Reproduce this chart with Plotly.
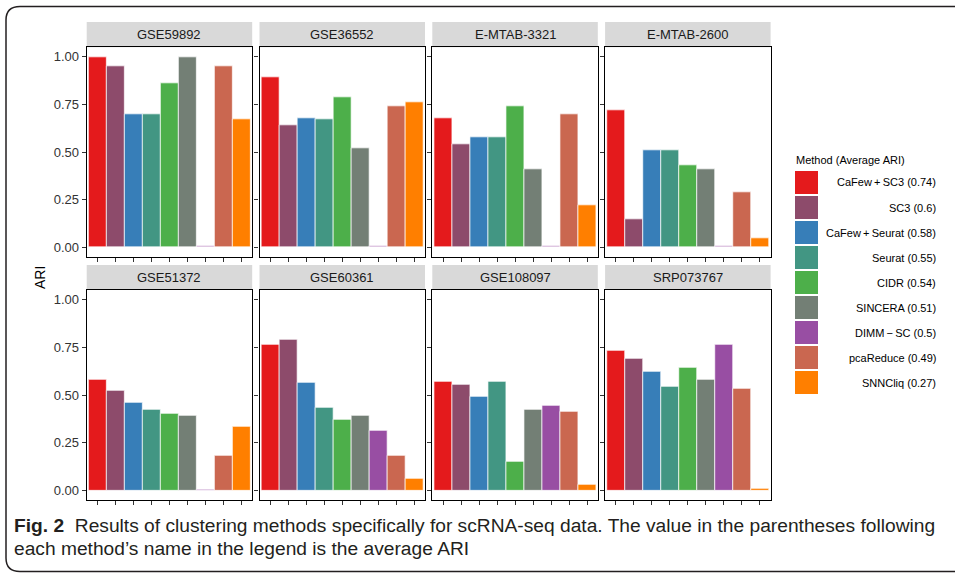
import plotly.graph_objects as go
from plotly.subplots import make_subplots

W, H = 955, 573

methods = ["CaFew+SC3", "SC3", "CaFew+Seurat", "Seurat", "CIDR", "SINCERA", "DIMM-SC", "pcaReduce", "SNNCliq"]
legend_labels = ["CaFew\u2009+\u2009SC3", "SC3", "CaFew\u2009+\u2009Seurat", "Seurat", "CIDR", "SINCERA",
                 "DIMM\u2009\u2212\u2009SC", "pcaReduce", "SNNCliq"]
avg_ari = ["0.74", "0.6", "0.58", "0.55", "0.54", "0.51", "0.5", "0.49", "0.27"]
colors = ["#E41A1C", "#8D4B6B", "#377EB8", "#429683", "#4DAF4A", "#737F75", "#984EA3", "#CA6750", "#FF7F00"]

datasets = ["GSE59892", "GSE36552", "E-MTAB-3321", "E-MTAB-2600",
            "GSE51372", "GSE60361", "GSE108097", "SRP073767"]

GSE59892 = [1.00, 0.95, 0.70, 0.70, 0.862, 1.00, 0.006, 0.95, 0.674]
GSE36552 = [0.894, 0.642, 0.679, 0.674, 0.789, 0.522, 0.006, 0.742, 0.763]
E_MTAB_3321 = [0.679, 0.543, 0.579, 0.579, 0.742, 0.412, 0.006, 0.70, 0.223]
E_MTAB_2600 = [0.721, 0.150, 0.511, 0.511, 0.433, 0.412, 0.006, 0.291, 0.051]
GSE51372 = [0.578, 0.521, 0.458, 0.422, 0.401, 0.390, 0.006, 0.181, 0.333]
GSE60361 = [0.761, 0.787, 0.563, 0.432, 0.369, 0.390, 0.312, 0.181, 0.061]
GSE108097 = [0.568, 0.552, 0.490, 0.568, 0.150, 0.422, 0.443, 0.411, 0.030]
SRP073767 = [0.730, 0.690, 0.620, 0.542, 0.641, 0.578, 0.761, 0.531, 0.009]
values = [GSE59892, GSE36552, E_MTAB_3321, E_MTAB_2600, GSE51372, GSE60361, GSE108097, SRP073767]

y_ticks = [0, 0.25, 0.5, 0.75, 1.0]
y_ticktext = ["0.00", "0.25", "0.50", "0.75", "1.00"]


def px(x):
    return x / W


def py(y):
    return 1 - y / H


fig = make_subplots(rows=2, cols=4)

col_left = [86.7, 259.5, 432.3, 605.1]
col_w = 165.5
row_plot = [(47.2, 257.2), (289.7, 500.3)]
row_strip = [(22.0, 47.2), (265.0, 289.7)]

shapes = []
annotations = []

for i, (name, vals) in enumerate(zip(datasets, values)):
    r, c = divmod(i, 4)
    fig.add_trace(go.Bar(x=methods, y=vals, marker=dict(color=colors, line=dict(color="white", width=0.7)),
                         width=1, showlegend=False, hoverinfo="x+y"), row=r + 1, col=c + 1)
    x0, x1 = col_left[c], col_left[c] + col_w
    y0, y1 = row_plot[r]
    k = "" if i == 0 else str(i + 1)
    fig.layout["xaxis" + k].update(domain=[px(x0), px(x1)], range=[-0.6, 8.6], showticklabels=False,
                                   ticks="outside", ticklen=4, tickcolor="#333", tickwidth=1,
                                   showline=True, mirror=True, linecolor="black", linewidth=1.2,
                                   showgrid=False, zeroline=False, fixedrange=True)
    fig.layout["yaxis" + k].update(domain=[py(y1), py(y0)], range=[-0.05, 1.05], tickvals=y_ticks,
                                   ticktext=y_ticktext, showticklabels=(c == 0),
                                   ticks="outside", ticklen=4, tickcolor="#333", tickwidth=1,
                                   tickfont=dict(size=13, color="#333", family="Liberation Sans"),
                                   showline=True, mirror=True, linecolor="black", linewidth=1.2,
                                   showgrid=False, zeroline=False, fixedrange=True)
    sy0, sy1 = row_strip[r]
    shapes.append(dict(type="rect", xref="paper", yref="paper", x0=px(x0), x1=px(x1),
                       y0=py(sy1), y1=py(sy0), fillcolor="#D9D9D9", line=dict(width=0), layer="below"))
    annotations.append(dict(text=name, xref="paper", yref="paper", x=px((x0 + x1) / 2), y=py((sy0 + sy1) / 2),
                            showarrow=False, xanchor="center", yanchor="middle",
                            font=dict(size=13, color="#1a1a1a", family="Liberation Sans")))

# y axis title
annotations.append(dict(text="ARI", xref="paper", yref="paper", x=px(40), y=py(278), textangle=-90,
                        showarrow=False, xanchor="center", yanchor="middle",
                        font=dict(size=14, color="black", family="Liberation Sans")))

# legend
annotations.append(dict(text="Method (Average ARI)", xref="paper", yref="paper", x=px(794), y=py(160),
                        showarrow=False, xanchor="left", yanchor="middle",
                        font=dict(size=11, color="black", family="Liberation Sans")))
for j, (lab, a, col) in enumerate(zip(legend_labels, avg_ari, colors)):
    top = 171 + 25 * j
    shapes.append(dict(type="rect", xref="paper", yref="paper", x0=px(795), x1=px(818),
                       y0=py(top + 23), y1=py(top), fillcolor=col, line=dict(width=0)))
    annotations.append(dict(text=f"{lab} ({a})", xref="paper", yref="paper", x=px(938), y=py(top + 11.5),
                            showarrow=False, xanchor="right", yanchor="middle",
                            font=dict(size=11, color="black", family="Liberation Sans")))

# caption
cap_font = "Liberation Sans"
annotations.append(dict(text="<b>Fig. 2</b>  Results of clustering methods specifically for scRNA-seq data. "
                             "The value in the parentheses following",
                        xref="paper", yref="paper", x=px(12), y=py(525), showarrow=False,
                        xanchor="left", yanchor="middle",
                        font=dict(size=19.2, color="#231F20", family=cap_font)))
annotations.append(dict(text="each method\u2019s name in the legend is the average ARI",
                        xref="paper", yref="paper", x=px(12), y=py(548), showarrow=False,
                        xanchor="left", yanchor="middle",
                        font=dict(size=19.2, color="#231F20", family=cap_font)))

# outer frame
path = (f"M {px(970)},{py(6.5)} L {px(20)},{py(6.5)} Q {px(6)},{py(6.5)} {px(6)},{py(20)} "
        f"L {px(6)},{py(558)} Q {px(6)},{py(571.5)} {px(20)},{py(571.5)} L {px(970)},{py(571.5)}")
shapes.append(dict(type="path", xref="paper", yref="paper", path=path, line=dict(color="#231F20", width=1.5)))

fig.update_layout(width=W, height=H, margin=dict(l=0, r=0, t=0, b=0), paper_bgcolor="white",
                  plot_bgcolor="white", bargap=0, shapes=shapes, annotations=annotations,
                  font=dict(family="Liberation Sans"))

fig.write_html("out.html")
